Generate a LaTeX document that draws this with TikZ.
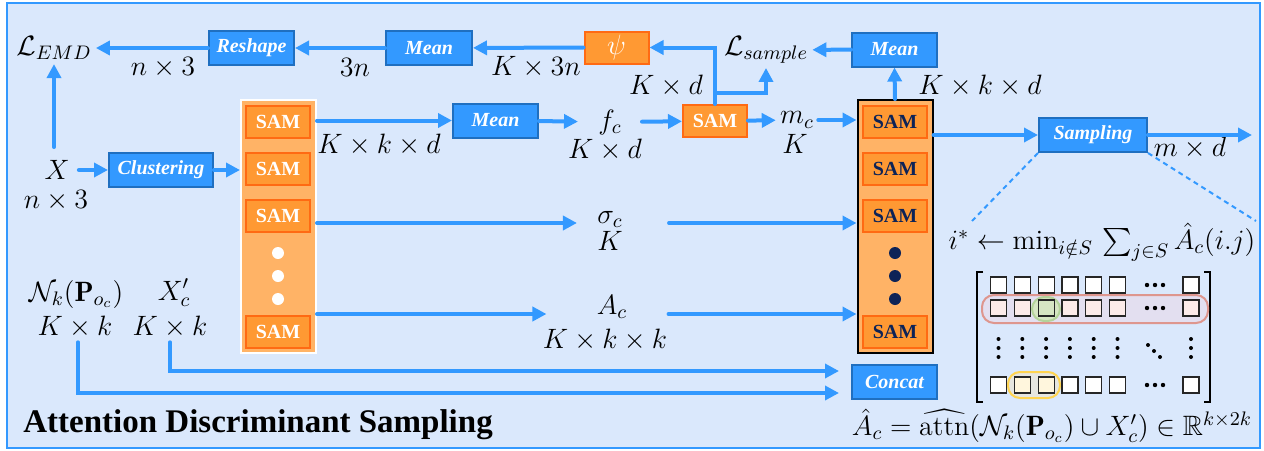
\RequirePackage{fix-cm}
\documentclass[tikz,border=0pt]{standalone}
\usepackage{amsmath,amssymb}
\usepackage{fontspec}
\newfontfamily\timesfont{Liberation Serif}
\usetikzlibrary{arrows.meta}

\definecolor{bgblue}{HTML}{DAE8FC}
\definecolor{lineblue}{HTML}{3399FF}
\definecolor{boxedge}{HTML}{1F6FC0}
\definecolor{samfill}{HTML}{FF9933}
\definecolor{samedge}{HTML}{FF6A13}
\definecolor{colfill}{HTML}{FFB366}
\definecolor{navy}{HTML}{0D2357}
\definecolor{rowred}{HTML}{DE968E}
\definecolor{rowfill}{HTML}{E3DFF0}
\definecolor{cellpink}{HTML}{FCEBE9}
\definecolor{greenedge}{HTML}{B4D39A}
\definecolor{greenfill}{HTML}{D6E5C3}
\definecolor{yellowedge}{HTML}{FFD450}
\definecolor{yellowfill}{HTML}{E6E6E0}
\definecolor{cellyellow}{HTML}{FFF6DD}

\begin{document}
\begin{tikzpicture}[x=0.5pt, y=-0.5pt, >={Triangle[length=7pt,width=7pt]},
    flow/.style={->, draw=lineblue, line width=2pt, line cap=round},
    bluebox/.style={draw=boxedge, fill=lineblue, line width=1pt, text=white,
        font=\timesfont\bfseries\itshape\fontsize{10}{12}\selectfont,
        minimum height=17pt, inner sep=0pt},
    sambox/.style={draw=samedge, fill=samfill, line width=1pt, text=white,
        font=\timesfont\bfseries\fontsize{10}{12}\selectfont,
        minimum width=32pt, minimum height=16pt, inner sep=0pt},
    column/.style={fill=colfill, line width=1pt, minimum width=37.5pt,
        minimum height=126.5pt, inner sep=0pt},
    dim/.style={font=\fontsize{14}{16}\selectfont, inner sep=2pt},
    cell/.style={draw=black!85, fill=white, line width=0.6pt, minimum size=8pt, inner sep=0pt},
    hint/.style={draw=lineblue, line width=1pt, dash pattern=on 2.5pt off 2pt}]
    \useasboundingbox (0,0) rectangle (1264,450);

    % Frame
    \draw[draw=lineblue, fill=bgblue, line width=1.3pt] (7,3) rectangle (1260,448);

    % SAM columns
    \node[column, draw=white] (lcol) at (278.5,226.5) {};
    \node[column, draw=black] (rcol) at (895,226.5) {};
    \foreach \y/\n in {122/1,169/2,215.5/3,332/4} {
        \node[sambox] (lsam\n) at (278,\y) {SAM};
        \node[sambox, text=navy] (rsam\n) at (895,\y) {SAM};
    }
    \foreach \y in {253,276,299} {
        \fill[white] (278,\y) circle (3pt);
        \fill[navy] (895,\y) circle (3pt);
    }

    % Boxes
    \node[bluebox, minimum width=42.5pt] (reshape) at (251.5,48) {Reshape};
    \node[bluebox, minimum width=43pt] (meanA) at (429,48) {Mean};
    \node[sambox, font=\fontsize{14}{16}\selectfont] (psi) at (616.5,47.5) {$\psi$};
    \node[bluebox, minimum width=42.5pt] (meanC) at (894.5,49.5) {Mean};
    \node[bluebox, minimum width=52pt] (cluster) at (161,170) {Clustering};
    \node[bluebox, minimum width=42.5pt] (meanB) at (495.5,120.5) {Mean};
    \node[sambox] (msam) at (715,121) {SAM};
    \node[bluebox, minimum width=54pt] (sampling) at (1093,135) {Sampling};
    \node[bluebox, minimum width=42.5pt] (concat) at (894.5,381.5) {Concat};

    % Labels
    \node[dim] (lemd) at (54,48) {$\mathcal{L}_{EMD}$};
    \node[dim] (nA) at (163,68) {$n\times 3$};
    \node[dim] (threen) at (355,67) {$3n$};
    \node[dim] (kthreen) at (536,67) {$K\times 3n$};
    \node[dim] (kdA) at (666,86) {$K\times d$};
    \node[dim] (lsample) at (766,50) {$\mathcal{L}_{sample}$};
    \node[dim] (kkdB) at (980,86) {$K\times k\times d$};
    \node[dim] (x) at (57,170) {$X$};
    \node[dim] (nB) at (56,201) {$n\times 3$};
    \node[dim] (kkdA) at (379,145) {$K\times k\times d$};
    \node[dim] (fc) at (610,122) {$f_c$};
    \node[dim] (kdB) at (605,150) {$K\times d$};
    \node[dim] (mc) at (797,120) {$m_c$};
    \node[dim] (kA) at (795,144) {$K$};
    \node[dim, anchor=base] (sigma) at (610,223) {$\sigma_c$};
    \node[dim] (kB) at (610,241) {$K$};
    \node[dim, anchor=base] (ac) at (612,314) {$A_c$};
    \node[dim] (kkk) at (605,340) {$K\times k\times k$};
    \node[dim] (md) at (1190,148) {$m\times d$};
    \node[dim] (nk) at (76,294) {$\mathcal{N}_k(\mathbf{P}_{o_c})$};
    \node[dim] (xc) at (174,293) {$X'_c$};
    \node[dim] (kkA) at (75,327) {$K\times k$};
    \node[dim] (kkB) at (170,327) {$K\times k$};
    \node[dim] (rule) at (1102,242) {$i^* \leftarrow \min_{i\notin S}\, \sum_{j\in S} \hat{A}_c(i.j)$};
    \node[dim] (attn) at (1052,426) {$\hat{A}_c = \widehat{\mathrm{attn}}(\mathcal{N}_k(\mathbf{P}_{o_c}) \cup X'_c) \in \mathbb{R}^{k\times 2k}$};
    \node[anchor=base west, inner sep=0pt, font=\timesfont\bfseries\fontsize{16.5}{20}\selectfont] (title) at (23,432) {Attention Discriminant Sampling};

    % Top row
    \draw[flow] (reshape) -- (lemd);
    \draw[flow] (meanA) -- (reshape);
    \draw[flow] (psi) -- (meanA);
    \draw[flow] (msam.north) |- (psi);
    \coordinate (branch) at (715,93);
    \draw[flow] (branch) -| (lsample);
    \draw[flow] (meanC) -- (lsample);
    \draw[flow] (rcol.north) -- (meanC.south);

    % Input and clustering
    \draw[flow, shorten <=4.5pt] (x.north -| lemd.south) -- (lemd.south);
    \draw[flow, shorten <=2.5pt] (x) -- (cluster);
    \draw[flow] (cluster) -- (cluster -| lcol.west);

    % Middle row
    \draw[flow] (meanB -| lcol.east) -- (meanB);
    \draw[flow, shorten >=8pt] (meanB) -- (fc);
    \draw[flow, shorten <=8pt] (fc) -- (msam);
    \draw[flow] (msam) -- (mc);
    \draw[flow] (mc) -- (rcol.west |- mc);
    \draw[flow] (rcol.east |- sampling) -- (sampling);
    \coordinate (out) at (1252,135);
    \draw[flow] (sampling) -- (out);
    \coordinate (dl) at (972,221);
    \coordinate (dr) at (1256,221);
    \draw[hint] (sampling.south west) -- (dl);
    \draw[hint] (sampling.south east) -- (dr);

    % sigma and A
    \draw[flow, shorten >=8pt] (lcol.east |- sigma.base) -- (sigma.base west);
    \draw[flow, shorten <=21pt] (sigma.base east) -- (rcol.west |- sigma.base);
    \draw[flow, shorten >=23pt] (lcol.east |- ac.base) -- (ac.base west);
    \draw[flow, shorten <=18.5pt] (ac.base east) -- (rcol.west |- ac.base);

    % Neighbourhoods to concat
    \draw[flow, shorten >=6pt] ([xshift=1.5pt]kkA.south) |- ([yshift=-5.75pt]concat.west);
    \draw[flow, shorten >=6pt] (kkB.south) |- ([yshift=5.25pt]concat.west);

    % Attention matrix
    \draw[line width=1pt] (983,272) -- (977,272) -- (977,402) -- (983,402);
    \draw[line width=1pt] (1204,272) -- (1210,272) -- (1210,402) -- (1204,402);
    \draw[draw=rowred, fill=rowfill, line width=1pt, rounded corners=6pt] (982,295) rectangle (1208,323);
    \draw[draw=greenedge, fill=greenfill, line width=1pt, rounded corners=6pt] (1032,297) rectangle (1060,321);
    \draw[draw=yellowedge, fill=yellowfill, line width=1pt, rounded corners=6pt] (1008,372) rectangle (1060,398);
    \foreach \x [count=\i] in {998.5,1022.3,1046.1,1069.9,1093.7,1117.5,1191} {
        \node[cell] (ra\i) at (\x,285) {};
        \node[cell, fill=cellpink] (rb\i) at (\x,308) {};
        \node[cell] (rd\i) at (\x,385) {};
        \foreach \y in {339,348,357}
            \fill (\x,\y) circle (1pt);
    }
    \node[cell, fill=greenfill] (rb3) at (1046.1,308) {};
    \node[cell, fill=cellyellow] (rd2) at (1022.3,385) {};
    \node[cell, fill=cellyellow] (rd3) at (1046.1,385) {};
    \foreach \y in {285,308,385}
        \foreach \dx in {-8,0,8}
            \fill ({1155+\dx},\y) circle (1.1pt);
    \fill (1148,345) circle (1pt);
    \fill (1154,351) circle (1pt);
    \fill (1160,357) circle (1pt);
\end{tikzpicture}
\end{document}
